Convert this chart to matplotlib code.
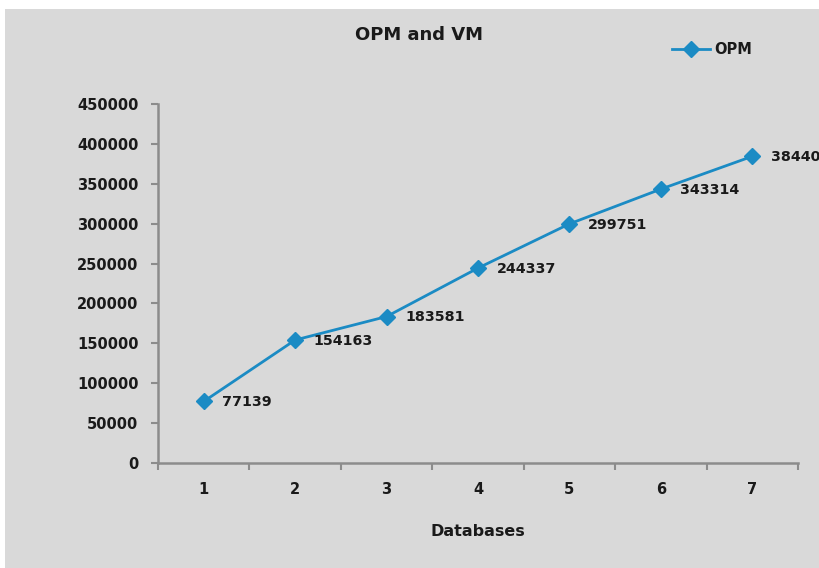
import matplotlib
matplotlib.use("Agg")
import matplotlib.pyplot as plt
from matplotlib.patches import Rectangle

# data
databases = [1, 2, 3, 4, 5, 6, 7]
opm = [77139, 154163, 183581, 244337, 299751, 343314, 384403]
yticks = [0, 50000, 100000, 150000, 200000, 250000, 300000, 350000, 400000, 450000]

plt.rcParams['font.family'] = ['DejaVu Sans']
plt.rcParams['font.weight'] = 'bold'

fig = plt.figure(figsize=(8.19, 5.68), dpi=100)
fig.patch.set_facecolor('white')
# gray chart area
fig.patches.append(Rectangle((5 / 819, 0), 1, 1 - 9 / 568, transform=fig.transFigure,
                             facecolor='#d9d9d9', edgecolor='none', zorder=-10))

ax = fig.add_axes([158 / 819, 1 - 463 / 568, 640 / 819, 359 / 568])
ax.set_facecolor('none')

line_color = '#1b8bc4'
ax.plot(databases, opm, color=line_color, lw=2.0, marker='D', markersize=8,
        clip_on=False, label='OPM')

for x, y in zip(databases, opm):
    ax.annotate(str(y), (x, y), xytext=(13.5, -0.5), textcoords='offset points',
                ha='left', va='center', fontsize=10.3, fontweight='bold',
                color='#1a1a1a', annotation_clip=False)

ax.set_xlim(0.5, 7.5)
ax.set_ylim(0, 450000)
ax.set_yticks(yticks)
ax.set_yticklabels([str(v) for v in yticks])
ax.set_xticks(databases)
ax.set_xticks([i + 0.5 for i in range(0, 8)], minor=True)

for s in ['top', 'right']:
    ax.spines[s].set_visible(False)
for s in ['left', 'bottom']:
    ax.spines[s].set_color('#8c8c8c')
    ax.spines[s].set_linewidth(1.8)

ax.tick_params(axis='y', which='major', length=5, width=1.5, color='#8c8c8c',
               labelsize=10.5, pad=9, labelcolor='#1a1a1a')
ax.tick_params(axis='x', which='major', length=0, labelsize=10.5, pad=14,
               labelcolor='#1a1a1a')
ax.tick_params(axis='x', which='minor', length=5, width=1.5, color='#8c8c8c')

ax.set_xlabel('Databases', fontsize=11.5, fontweight='bold', labelpad=19, color='#1a1a1a')
fig.text(419 / 819, 1 - 35 / 568, 'OPM and VM', ha='center', va='center',
         fontsize=13, fontweight='bold', color='#1a1a1a')

leg = ax.legend(loc='center', bbox_to_anchor=(712 / 819, 1 - 50 / 568),
                bbox_transform=fig.transFigure, frameon=False, fontsize=10.5,
                handlelength=2.6, handletextpad=0.3)
for t in leg.get_texts():
    t.set_color('#1a1a1a')

fig.savefig('out.png', dpi=100, facecolor=fig.get_facecolor())
